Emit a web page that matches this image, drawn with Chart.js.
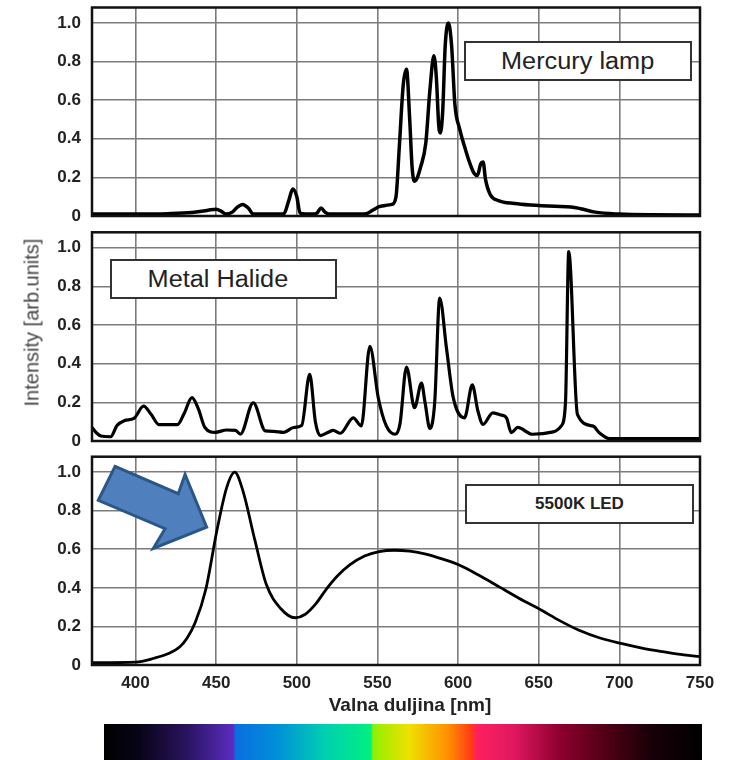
<!DOCTYPE html>
<html>
<head>
<meta charset="utf-8">
<script src="https://cdn.jsdelivr.net/npm/chart.js@4"></script>
<style>
    body { margin: 0; background: #fff; width: 729px; height: 760px; position: relative; overflow: hidden; font-family: "Liberation Sans", Arial, sans-serif; }
    canvas { position: absolute; left: 0; }
    .kutija { position: absolute; box-sizing: border-box; border: 2px solid #333; background: #fff; display: flex; align-items: center; justify-content: center; color: #222; }
    .kutija span { display: inline-block; transform: scaleX(1.1); }
    #spektar { position: absolute; left: 104px; top: 724px; width: 598px; height: 36px;
        background: linear-gradient(to right, #000 0%, #080418 6%, #2a1460 14%, #5a2cc0 21.6%, #0a6ee0 22%, #0090d8 29%, #00d0b0 37%, #00f080 44.6%, #90f000 45%, #f0e000 51%, #ff9000 57.5%, #ff3818 61.6%, #ff2060 62.2%, #e01860 68.5%, #900030 76%, #500014 84%, #180008 91.5%, #000 100%); }
    #xnaslov { position: absolute; left: 300px; top: 694px; width: 220px; text-align: center; font-weight: bold; font-size: 19px; color: #222; }
    #ynaslov { position: absolute; left: -78px; top: 311px; width: 220px; text-align: center; font-size: 20px; color: #444; transform: rotate(-90deg); }
</style>
</head>
<body>
<canvas id="graf1" width="729" height="260" style="top:-20px"></canvas>
<canvas id="graf2" width="729" height="260" style="top:205px"></canvas>
<canvas id="graf3" width="729" height="330" style="top:430px"></canvas>

<div class="kutija" style="left:464px; top:41px; width:228px; height:40px; font-size:23px;"><span>Mercury lamp</span></div>
<div class="kutija" style="left:110px; top:259px; width:227px; height:40px; font-size:23px; padding-right:12px;"><span>Metal Halide</span></div>
<div class="kutija" style="left:465px; top:484px; width:229px; height:40px; font-size:17px; font-weight:bold;">5500K LED</div>

<div id="ynaslov">Intensity [arb.units]</div>
<div id="xnaslov">Valna duljina [nm]</div>
<div id="spektar"></div>

<script>
// Mercury lamp
const hgNm = [373, 400, 420, 435, 445, 450, 453, 456, 460, 463, 466.5, 470, 473, 485, 492, 495, 497.5, 500, 502, 510, 512.5, 515, 517.5, 520, 535, 543, 547, 551, 555, 559, 561.5, 563.5, 566, 568, 570, 571.5, 573, 577, 580, 582.5, 585, 586.5, 588, 589, 590.5, 592, 594, 596, 598, 601, 604, 607, 610, 612, 614, 615.5, 617, 620, 625, 635, 645, 660, 670, 676, 685, 700, 720, 750];
const hgVal = [0.01, 0.01, 0.012, 0.018, 0.03, 0.035, 0.025, 0.01, 0.02, 0.045, 0.06, 0.04, 0.01, 0.01, 0.012, 0.08, 0.14, 0.1, 0.015, 0.01, 0.015, 0.042, 0.02, 0.01, 0.01, 0.012, 0.03, 0.048, 0.055, 0.06, 0.1, 0.35, 0.68, 0.76, 0.5, 0.25, 0.18, 0.26, 0.38, 0.65, 0.83, 0.72, 0.47, 0.43, 0.55, 0.88, 1.0, 0.88, 0.58, 0.45, 0.36, 0.28, 0.22, 0.21, 0.27, 0.28, 0.19, 0.11, 0.08, 0.065, 0.057, 0.05, 0.047, 0.038, 0.02, 0.01, 0.006, 0.005];

// Metal Halide
const mhNm = [373, 376, 378.5, 384.5, 388.5, 393, 399, 405, 409.5, 414.5, 426, 430, 435, 439, 443, 449.5, 456.5, 462, 465, 473, 480.5, 485.5, 492, 498, 503, 508, 511.5, 514.5, 519.5, 522.5, 527, 535, 540, 545.3, 550.5, 555.5, 561, 564, 568, 573, 577.3, 579.5, 582.5, 585.5, 588.6, 592.8, 597, 604, 608.8, 612.3, 615.5, 621.5, 626.8, 630, 633, 637, 646, 659, 664, 666.6, 668.6, 674, 683.5, 687.5, 694, 720, 750];
const mhVal = [0.07, 0.04, 0.026, 0.022, 0.08, 0.105, 0.117, 0.18, 0.14, 0.085, 0.085, 0.14, 0.224, 0.165, 0.07, 0.045, 0.057, 0.055, 0.035, 0.198, 0.052, 0.05, 0.045, 0.07, 0.08, 0.345, 0.1, 0.028, 0.045, 0.055, 0.04, 0.12, 0.078, 0.49, 0.224, 0.078, 0.035, 0.09, 0.383, 0.172, 0.3, 0.2, 0.065, 0.2, 0.74, 0.48, 0.224, 0.12, 0.29, 0.155, 0.086, 0.146, 0.134, 0.12, 0.043, 0.07, 0.035, 0.047, 0.078, 0.2, 0.98, 0.138, 0.078, 0.043, 0.012, 0.012, 0.012];

// 5500K LED
const ledNm = [373, 400, 411.5, 420, 427.5, 432, 437, 443.5, 450.5, 456.5, 461.5, 466.5, 474, 481, 490, 499, 505, 512, 518, 525, 533, 542, 551, 560.5, 570, 580, 590, 601, 613, 625.5, 638, 651.5, 663, 675, 688, 701, 714, 727, 740, 750];
const ledVal = [0.012, 0.015, 0.035, 0.058, 0.095, 0.14, 0.22, 0.39, 0.7, 0.92, 1.0, 0.905, 0.647, 0.42, 0.293, 0.245, 0.262, 0.32, 0.39, 0.46, 0.52, 0.565, 0.588, 0.595, 0.59, 0.575, 0.55, 0.517, 0.465, 0.405, 0.345, 0.285, 0.23, 0.18, 0.14, 0.112, 0.088, 0.069, 0.052, 0.043];

const yOznake = [0, 0.2, 0.4, 0.6, 0.8, 1.0];

Chart.defaults.font.family = '"Liberation Sans", Arial, sans-serif';

function tocke(xs, ys) {
    return xs.map((x, i) => ({ x: x, y: ys[i] }));
}

// crni okvir oko grafa
const okvir = {
    id: 'okvir',
    afterDraw(chart) {
        const { ctx, chartArea: a } = chart;
        ctx.save();
        ctx.strokeStyle = '#111';
        ctx.lineWidth = 2.5;
        ctx.strokeRect(a.left, a.top, a.right - a.left, a.bottom - a.top);
        ctx.restore();
    }
};

// plava strelica na LED grafu
const strelica = {
    id: 'strelica',
    afterDraw(chart) {
        const { ctx, scales } = chart;
        const pts = [[387.3, 1.03], [426.5, 0.888], [430.7, 0.988], [444.1, 0.715], [411, 0.604], [418.3, 0.707], [376.9, 0.854]];
        ctx.save();
        ctx.beginPath();
        pts.forEach((p, i) => {
            const px = scales.x.getPixelForValue(p[0]);
            const py = scales.y.getPixelForValue(p[1]);
            if (i === 0) ctx.moveTo(px, py); else ctx.lineTo(px, py);
        });
        ctx.closePath();
        ctx.fillStyle = '#4f7fbd';
        ctx.fill();
        ctx.lineWidth = 3;
        ctx.lineJoin = 'miter';
        ctx.strokeStyle = '#2b5689';
        ctx.stroke();
        ctx.restore();
    }
};

function napraviGraf(id, nm, vrijednosti, opcije) {
    const ctx = document.getElementById(id).getContext('2d');
    return new Chart(ctx, {
        type: 'line',
        data: {
            datasets: [{
                data: tocke(nm, vrijednosti),
                borderColor: '#000',
                borderWidth: opcije.debljina,
                pointRadius: 0,
                cubicInterpolationMode: 'monotone',
                fill: false
            }]
        },
        options: {
            responsive: false,
            animation: false,
            layout: { padding: opcije.padding },
            plugins: {
                legend: { display: false },
                tooltip: { enabled: false }
            },
            scales: {
                x: {
                    type: 'linear',
                    min: 373,
                    max: 750,
                    ticks: {
                        stepSize: 50,
                        includeBounds: false,
                        display: opcije.xOznake,
                        autoSkip: false,
                        maxRotation: 0,
                        padding: 8,
                        color: '#222',
                        font: { size: 17, weight: 'bold' }
                    },
                    grid: { color: '#7c7c7c', lineWidth: 1.6, drawTicks: false },
                    border: { display: false },
                    afterFit: s => { s.height = opcije.xOznake ? 30 : 0; }
                },
                y: {
                    min: 0,
                    max: 1.08,
                    afterBuildTicks: s => { s.ticks = yOznake.map(v => ({ value: v })); },
                    ticks: {
                        padding: 11,
                        color: '#222',
                        font: { size: 17, weight: 'bold' },
                        callback: v => v === 0 ? '0' : v.toFixed(1)
                    },
                    grid: { color: '#7c7c7c', lineWidth: 1.6, drawTicks: false },
                    border: { display: false },
                    afterFit: s => { s.width = 92; }
                }
            }
        },
        plugins: opcije.plugini
    });
}

napraviGraf('graf1', hgNm, hgVal, {
    debljina: 3.5,
    xOznake: false,
    padding: { top: 27.5, bottom: 24, left: 0, right: 29 },
    plugini: [okvir]
});

napraviGraf('graf2', mhNm, mhVal, {
    debljina: 3.2,
    xOznake: false,
    padding: { top: 27.3, bottom: 24, left: 0, right: 29 },
    plugini: [okvir]
});

napraviGraf('graf3', ledNm, ledVal, {
    debljina: 2.8,
    xOznake: true,
    padding: { top: 26.7, bottom: 65, left: 0, right: 29 },
    plugini: [okvir, strelica]
});
</script>
</body>
</html>
